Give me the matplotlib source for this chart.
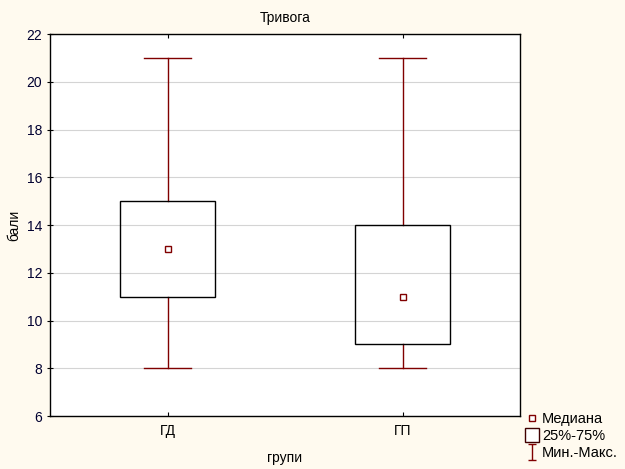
import matplotlib
matplotlib.use("Agg")
import matplotlib.pyplot as plt
from matplotlib.lines import Line2D
from matplotlib.patches import Rectangle
from matplotlib.path import Path

groups = ['ГД', 'ГП']
mins = [8, 8]
q1 = [11, 9]
medians = [13, 11]
q3 = [15, 14]
maxs = [21, 21]

red = '#800000'
plt.rcParams['font.family'] = ['Liberation Sans', 'DejaVu Sans']
plt.rcParams['font.size'] = 10

fig = plt.figure(figsize=(6.25, 4.69), dpi=100, facecolor='#fffaef')
ax = fig.add_axes([0.08, 0.113, 0.752, 0.8145])
ax.set_facecolor('white')

box_w = 0.404
cap_w = 0.2
for i in range(len(groups)):
    ax.plot([i, i], [mins[i], q1[i]], color=red, lw=1)
    ax.plot([i, i], [q3[i], maxs[i]], color=red, lw=1)
    ax.plot([i - cap_w / 2, i + cap_w / 2], [mins[i], mins[i]], color=red, lw=1)
    ax.plot([i - cap_w / 2, i + cap_w / 2], [maxs[i], maxs[i]], color=red, lw=1)
    ax.add_patch(Rectangle((i - box_w / 2, q1[i]), box_w, q3[i] - q1[i],
                           fill=False, edgecolor='black', lw=1, zorder=3))
    ax.plot(i, medians[i], marker='s', ms=4.5, mfc='white', mec=red, mew=1, zorder=4)

ax.set_xlim(-0.5, 1.5)
ax.set_ylim(6, 22)
ax.set_yticks(range(6, 23, 2))
ax.set_xticks(range(len(groups)))
ax.set_xticklabels(groups)
ax.grid(axis='y', color='#d4d4d4', lw=0.8)
ax.set_axisbelow(True)
ax.tick_params(axis='y', direction='inout', length=4, pad=3.5, labelcolor='#000030')
ax.tick_params(axis='x', direction='in', length=3, top=True, pad=6)
for s in ax.spines.values():
    s.set_linewidth(1)

ax.set_title('Тривога', fontsize=10, pad=9)
ax.set_ylabel('бали', labelpad=4)
ax.set_xlabel('групи', labelpad=9)

# I-shaped marker for the min-max legend entry
ibeam = Path([(-0.5, -1), (0.5, -1), (0, -1), (0, 1), (-0.5, 1), (0.5, 1)],
             [Path.MOVETO, Path.LINETO, Path.MOVETO, Path.LINETO, Path.MOVETO, Path.LINETO])

handles = [
    Line2D([], [], marker='s', ls='none', mfc='white', mec=red, ms=5),
    Line2D([], [], marker='s', ls='none', mfc='white', mec='#400000', ms=10.5),
    Line2D([], [], marker=ibeam, ls='none', color=red, mew=1, ms=11),
]
fig.legend(handles, ['Медиана', '25%-75%', 'Мин.-Макс.'], loc='lower left',
           bbox_to_anchor=(0.826, -0.002), frameon=False, handlelength=0.8,
           handletextpad=0.25, labelspacing=0.18, fontsize=10.5, borderaxespad=0.3)

fig.savefig('out.png', dpi=100, facecolor=fig.get_facecolor())
